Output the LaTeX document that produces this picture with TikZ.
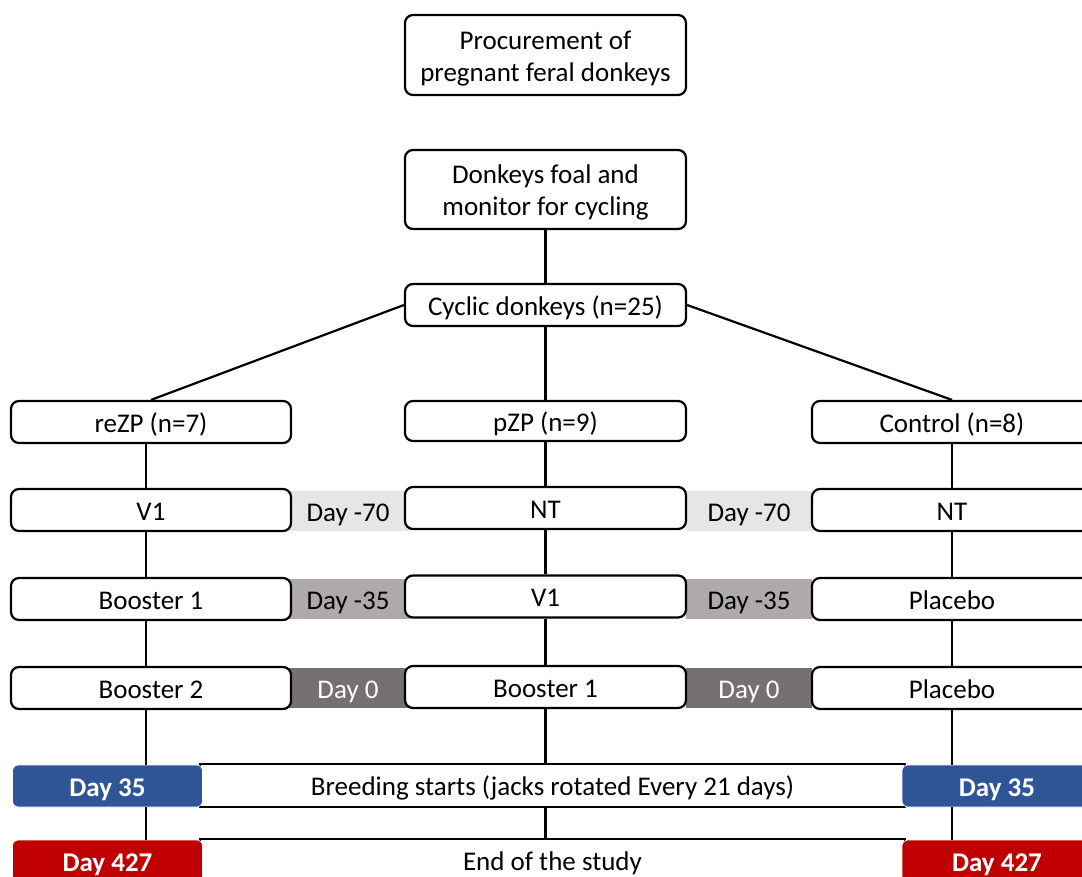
\documentclass[tikz,border=0pt]{standalone}
\usepackage{fontspec}
\setmainfont{Carlito}
\definecolor{bandA}{HTML}{E7E6E6}
\definecolor{bandB}{HTML}{AEAAAA}
\definecolor{bandC}{HTML}{767171}
\definecolor{dayblue}{HTML}{2F5597}
\definecolor{dayred}{HTML}{C00000}
\newcommand{\fsz}{\fontsize{27}{32}\selectfont}
\tikzset{
  lowtxt/.style={text height=23.5pt, text depth=3.5pt},
  boxbase/.style={draw=black, line width=2.2pt, rounded corners=8pt, fill=white, minimum width=281pt, minimum height=42pt, inner sep=0pt, align=center, font=\fsz},
  box/.style={boxbase, lowtxt},
  band/.style={minimum width=126pt, minimum height=40pt, inner sep=0pt, font=\fsz, lowtxt},
  daybox/.style={draw=white, line width=0.6pt, rounded corners=6pt, minimum width=190pt, minimum height=42pt, inner sep=0pt, text=white, font=\fsz\bfseries, lowtxt},
  wide/.style={draw=black, line width=2.2pt, fill=white, minimum width=705pt, minimum height=43pt, inner sep=0pt, font=\fsz, lowtxt},
  conn/.style={line width=2.2pt, black}
}
\begin{document}
\begin{tikzpicture}[x=1pt,y=-1pt]
\useasboundingbox (0,0) rectangle (1082,876);
\clip (0,0) rectangle (1082,876);
\fill[white] (0,0) rectangle (1082,876);
\coordinate (colL) at (146,0);
\coordinate (colM) at (545.5,0);
\coordinate (colR) at (952,0);
% bands
\node[band, fill=bandA] (bL1) at (348,511) {Day -70};
\node[band, fill=bandA] (bR1) at (749,511) {Day -70};
\node[band, fill=bandB] (bL2) at (348,599) {Day -35};
\node[band, fill=bandB] (bR2) at (749,599) {Day -35};
\node[band, fill=bandC, text=white] (bL3) at (348,688) {Day 0};
\node[band, fill=bandC, text=white] (bR3) at (749,688) {Day 0};
% top
\node[boxbase, minimum height=80pt] (proc) at (545.5,55) {\rule{0pt}{25pt}Procurement of\\pregnant feral donkeys};
\node[boxbase, minimum height=79pt] (foal) at (545.5,189.5) {\rule{0pt}{25pt}Donkeys foal and\\monitor for cycling};
\node[box] (cyc) at (545.5,305) {Cyclic donkeys (n=25)};
% groups
\node[box, minimum width=280pt] (reZP) at (151,422) {reZP (n=7)};
\node[box, minimum height=40pt] (pZP) at (545.5,421) {pZP (n=9)};
\node[box, minimum width=280pt] (ctrl) at (952,422) {Control (n=8)};
% row 2
\node[box, minimum width=280pt] (a2) at (151,510) {V1};
\node[box] (b2) at (545.5,508) {NT};
\node[box, minimum width=280pt] (c2) at (952,510) {NT};
% row 3
\node[box, minimum width=280pt] (a3) at (151,599) {Booster 1};
\node[box] (b3) at (545.5,596.5) {V1};
\node[box, minimum width=280pt] (c3) at (952,599) {Placebo};
% row 4
\node[box, minimum width=280pt] (a4) at (151,688) {Booster 2};
\node[box] (b4) at (545.5,687) {Booster 1};
\node[box, minimum width=280pt] (c4) at (952,688) {Placebo};
% breeding / end
\node[wide] (breed) at (552.5,785.5) {Breeding starts (jacks rotated Every 21 days)};
\node[wide] (endst) at (552.5,860.5) {};
\node[font=\fsz, lowtxt] (endtxt) at (552.5,860) {End of the study};
\node[daybox, fill=dayblue] (dL35) at (107.5,786) {Day 35};
\node[daybox, fill=dayblue] (dR35) at (997,786) {Day 35};
\node[daybox, fill=dayred] (dL427) at (107.5,861) {Day 427};
\node[daybox, fill=dayred] (dR427) at (997,861) {Day 427};
% connectors
\draw[conn] (foal.south) -- (cyc.north);
\draw[conn] (cyc.west) -- (reZP.north);
\draw[conn] (cyc.east) -- (ctrl.north);
\draw[conn] (cyc.south) -- (pZP.north);
% left column
\draw[conn] (colL |- reZP.south) -- (colL |- a2.north);
\draw[conn] (colL |- a2.south) -- (colL |- a3.north);
\draw[conn] (colL |- a3.south) -- (colL |- a4.north);
\draw[conn] (colL |- a4.south) -- (colL |- dL35.north);
\draw[conn] (colL |- dL35.south) -- (colL |- dL427.north);
% middle column
\draw[conn] (pZP.south) -- (b2.north);
\draw[conn] (b2.south) -- (b3.north);
\draw[conn] (b3.south) -- (b4.north);
\draw[conn] (b4.south) -- (colM |- breed.north);
\draw[conn] (colM |- breed.south) -- (colM |- endst.north);
% right column
\draw[conn] (colR |- ctrl.south) -- (colR |- c2.north);
\draw[conn] (colR |- c2.south) -- (colR |- c3.north);
\draw[conn] (colR |- c3.south) -- (colR |- c4.north);
\draw[conn] (colR |- c4.south) -- (colR |- dR35.north);
\draw[conn] (colR |- dR35.south) -- (colR |- dR427.north);
\end{tikzpicture}
\end{document}
